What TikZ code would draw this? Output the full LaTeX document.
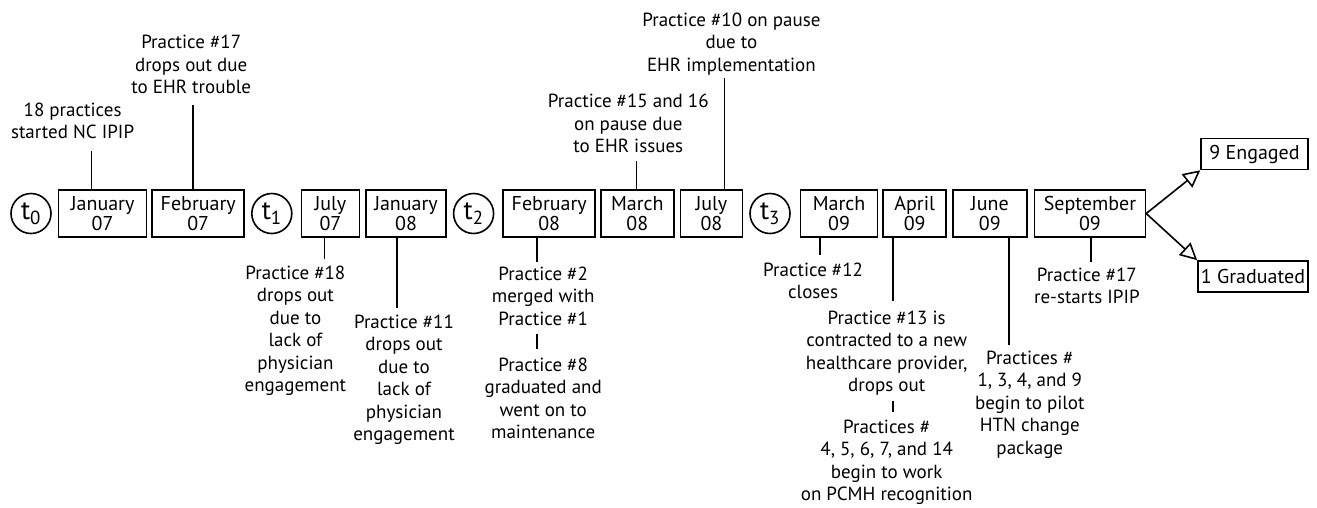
\documentclass[tikz,border=0pt]{standalone}
\usepackage{fontspec}
\setmainfont{PT Sans}
\usetikzlibrary{positioning,arrows.meta}

\begin{document}
\begin{tikzpicture}[x=1pt, y=1pt,
    month/.style={rectangle, draw=black, line width=1.6pt, minimum width=#1, minimum height=47pt, inner sep=0pt, align=center, font=\fontsize{20}{20}\selectfont},
    tmark/.style={circle, draw=black, line width=1.6pt, minimum size=40pt, inner sep=0pt, font=\fontsize{27}{27}\selectfont},
    note/.style={inner sep=0pt, outer sep=0pt, align=center, font=\fontsize{19}{22.5}\selectfont},
    stage/.style={rectangle, draw=black, line width=1.6pt, minimum width=#1, minimum height=31pt, inner sep=0pt, font=\fontsize{20}{20}\selectfont},
    link/.style={line width=1.6pt, shorten <=#1},
    link/.default=7pt,
    outcome/.style={line width=1.6pt, -{Triangle[open, length=17pt, width=17pt]}}]

  \useasboundingbox (0,0) rectangle (1317,-507);

  % Define nodes
  \node[tmark] (t0) at (31,-213.5) {t\textsubscript{0}};
  \node[month=88pt, right=6pt of t0] (jan07) {January\\07};
  \node[month=92pt, right=4pt of jan07] (feb07) {February\\07};
  \node[tmark, right=6pt of feb07] (t1) {t\textsubscript{1}};
  \node[month=58pt, right=8pt of t1] (jul07) {July\\07};
  \node[month=80pt, right=5pt of jul07] (jan08) {January\\08};
  \node[tmark, right=6pt of jan08] (t2) {t\textsubscript{2}};
  \node[month=92pt, right=8pt of t2] (feb08) {February\\08};
  \node[month=73pt, right=4pt of feb08] (mar08) {March\\08};
  \node[month=62pt, right=5pt of mar08] (jul08) {July\\08};
  \node[tmark, right=6pt of jul08] (t3) {t\textsubscript{3}};
  \node[month=77pt, right=9pt of t3] (mar09) {March\\09};
  \node[month=63pt, right=4pt of mar09] (apr09) {April\\09};
  \node[month=74pt, right=5pt of apr09] (jun09) {June\\09};
  \node[month=111pt, right=6pt of jun09] (sep09) {September\\09};

  \node[stage=107pt, right=54pt of sep09, yshift=59.5pt] (engaged) {9 Engaged};
  \node[stage=110pt, right=51pt of sep09, yshift=-63pt] (graduated) {1 Graduated};

  % events above the line
  \node[note, above=50pt of jan07, xshift=-30pt] (start) {18 practices\\started NC IPIP};
  \node[note, above=95pt of feb07, xshift=-7pt] (ehr17) {Practice \#17\\drops out due\\to EHR trouble};
  \node[note, above=36pt of mar08, xshift=-9pt] (pause1516) {Practice \#15 and 16\\on pause due\\to EHR issues};
  \node[note, above=114pt of jul08, xshift=20pt] (pause10) {Practice \#10 on pause\\due to\\EHR implementation};

  % events below the line
  \node[note, below=28pt of jul07, xshift=-35pt] (drop18) {Practice \#18\\drops out\\due to\\lack of\\physician\\engagement};
  \node[note, below=77pt of jan08, xshift=-2pt] (drop11) {Practice \#11\\drops out\\due to\\lack of\\physician\\engagement};
  \node[note, below=29pt of feb08, xshift=-6pt] (merge2) {Practice \#2\\merged with\\Practice \#1};
  \node[note, below=32pt of merge2] (grad8) {Practice \#8\\graduated and\\went on to\\maintenance};
  \node[note, below=25pt of mar09, xshift=-26pt] (close12) {Practice \#12\\closes};
  \node[note, below=73pt of apr09, xshift=-28pt] (contract13) {Practice \#13 is\\contracted to a new\\healthcare provider,\\drops out};
  \node[note, below=24pt of contract13] (pcmh) {Practices \#\\4, 5, 6, 7, and 14\\begin to work\\on PCMH recognition};
  \node[note, below=113pt of jun09, xshift=40pt] (pilot) {Practices \#\\1, 3, 4, and 9\\begin to pilot\\HTN change\\package};
  \node[note, below=30pt of sep09, xshift=-3pt] (restart17) {Practice \#17\\re-starts IPIP};

  % links
  \draw[link=12pt] ([xshift=19pt]start.south) -- ([xshift=19pt]start.south |- jan07.north);
  \draw[link=11pt] ([xshift=2pt]ehr17.south) -- ([xshift=2pt]ehr17.south |- feb07.north);
  \draw[link=8pt] ([xshift=8pt]pause1516.south) -- ([xshift=8pt]pause1516.south |- mar08.north);
  \draw[link=3pt] ([xshift=-7pt]pause10.south) -- ([xshift=-7pt]pause10.south |- jul08.north);

  \draw[link] ([xshift=29pt]drop18.north) -- ([xshift=29pt]drop18.north |- jul07.south);
  \draw[link] ([xshift=-7pt]drop11.north) -- ([xshift=-7pt]drop11.north |- jan08.south);
  \draw[link=5pt] ([xshift=-6pt]merge2.north) -- ([xshift=-6pt]merge2.north |- feb08.south);
  \draw[link=8pt, shorten >=9pt] ([xshift=-6pt]merge2.south) -- ([xshift=-6pt]grad8.north);
  \draw[link=8pt] ([xshift=7pt]close12.north) -- ([xshift=7pt]close12.north |- mar09.south);
  \draw[link=10pt] ([xshift=6pt]contract13.north) -- ([xshift=6pt]contract13.north |- apr09.south);
  \draw[link=5pt, shorten >=8pt] ([xshift=6pt]contract13.south) -- ([xshift=6pt]pcmh.north);
  \draw[link=6pt] ([xshift=-21pt]pilot.north) -- ([xshift=-21pt]pilot.north |- jun09.south);
  \draw[link=6pt] ([xshift=4pt]restart17.north) -- ([xshift=4pt]restart17.north |- sep09.south);

  \draw[outcome] (sep09.east) -- (engaged.south west);
  \draw[outcome] (sep09.east) -- (graduated.north west);

\end{tikzpicture}
\end{document}
